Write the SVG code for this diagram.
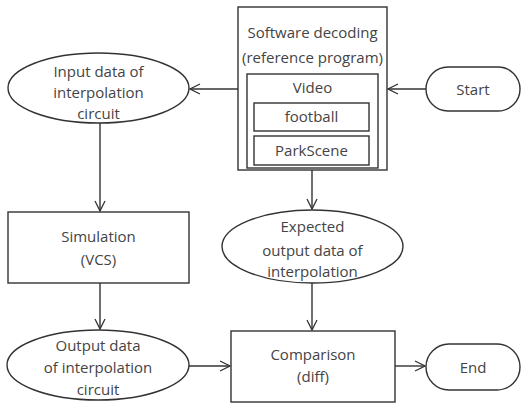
<svg xmlns="http://www.w3.org/2000/svg" width="521" height="405" viewBox="0 0 521 405">
<defs>
<marker id="ah" viewBox="0 0 12 12" refX="11" refY="6" markerWidth="12" markerHeight="12" markerUnits="userSpaceOnUse" orient="auto">
<path d="M1,1 L11,6 L1,11" fill="none" stroke="#333" stroke-width="1.3"/>
</marker>
<style>
.s{fill:#fff;stroke:#333;stroke-width:1.4}
.t{font-family:"Open Sans","Noto Sans",sans-serif;font-size:15px;fill:#444;text-anchor:middle}
.c{fill:none;stroke:#333;stroke-width:1.4;marker-end:url(#ah)}
</style>
</defs>
<rect width="521" height="405" fill="#fff"/>
<g id="connectors">
<line class="c" x1="238" y1="89" x2="190" y2="89"/>
<line class="c" x1="426" y1="89" x2="388" y2="89"/>
<line class="c" x1="100" y1="123" x2="100" y2="211"/>
<line class="c" x1="100" y1="283" x2="100" y2="329"/>
<line class="c" x1="312" y1="170" x2="312" y2="209"/>
<line class="c" x1="312" y1="283" x2="312" y2="330"/>
<line class="c" x1="189" y1="366" x2="230" y2="366"/>
<line class="c" x1="395" y1="366" x2="425" y2="366"/>
</g>
<g id="software">
<rect class="s" x="238" y="7" width="149" height="163"/>
<text class="t" x="312.5" y="38">Software decoding</text>
<text class="t" x="312.5" y="63">(reference program)</text>
</g>
<g id="video">
<rect class="s" x="247" y="74" width="131" height="94"/>
<text class="t" x="312.5" y="93">Video</text>
</g>
<g id="football">
<rect class="s" x="254" y="103" width="115" height="28"/>
<text class="t" x="311.5" y="122">football</text>
</g>
<g id="parkscene">
<rect class="s" x="254" y="136" width="115" height="29"/>
<text class="t" x="311.5" y="156">ParkScene</text>
</g>
<g id="start">
<rect class="s" x="426" y="67" width="94" height="44" rx="22" ry="22"/>
<text class="t" x="473" y="95">Start</text>
</g>
<g id="input">
<ellipse class="s" cx="98.5" cy="88" rx="90.5" ry="35"/>
<text class="t" x="98.5" y="77">Input data of</text>
<text class="t" x="98.5" y="98">interpolation</text>
<text class="t" x="98.5" y="119">circuit</text>
</g>
<g id="simulation">
<rect class="s" x="8" y="212" width="181" height="71"/>
<text class="t" x="98.5" y="242">Simulation</text>
<text class="t" x="98.5" y="265">(VCS)</text>
</g>
<g id="expected">
<ellipse class="s" cx="312.5" cy="246.5" rx="90.5" ry="36.5"/>
<text class="t" x="312.5" y="232">Expected</text>
<text class="t" x="312.5" y="256">output data of</text>
<text class="t" x="312.5" y="277">interpolation</text>
</g>
<g id="output">
<ellipse class="s" cx="98" cy="365" rx="91" ry="35"/>
<text class="t" x="98" y="351">Output data</text>
<text class="t" x="98" y="373">of interpolation</text>
<text class="t" x="98" y="395">circuit</text>
</g>
<g id="comparison">
<rect class="s" x="231" y="331" width="164" height="71"/>
<text class="t" x="313" y="360">Comparison</text>
<text class="t" x="313" y="382">(diff)</text>
</g>
<g id="end">
<rect class="s" x="426" y="344" width="94" height="46" rx="23" ry="23"/>
<text class="t" x="473" y="373">End</text>
</g>
</svg>
